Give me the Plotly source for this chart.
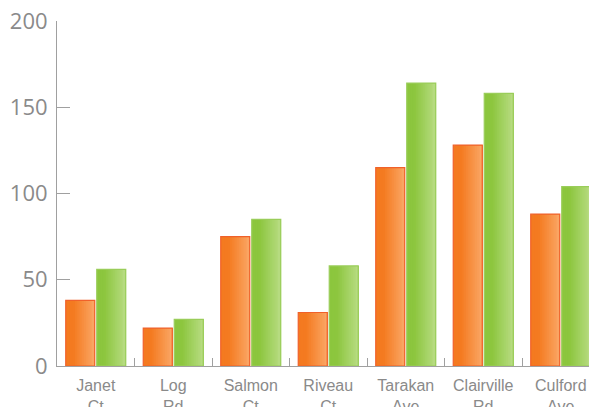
import plotly.graph_objects as go

categories = ["Janet<br>Ct", "Log<br>Rd", "Salmon<br>Ct", "Riveau<br>Ct", "Tarakan<br>Ave", "Clairville<br>Rd", "Culford<br>Ave"]
series_a = [38, 22, 75, 31, 115, 128, 88]
series_b = [56, 27, 85, 58, 164, 158, 104]
y_ticks = [0, 50, 100, 150, 200]

W, H = 589, 407
ML, MT, MB = 57, 21, 41
cat_px = 77.5
plot_w = W - ML
x_max = -0.5 + plot_w / cat_px

bar_w = 29 / cat_px
offsets = [-30 / cat_px, 1 / cat_px]

def hex2rgb(h):
    h = h.lstrip("#")
    return tuple(int(h[i:i + 2], 16) for i in (0, 2, 4))

def mix(c1, c2, t):
    a, b = hex2rgb(c1), hex2rgb(c2)
    return "rgb(%d,%d,%d)" % tuple(round(a[i] + (b[i] - a[i]) * t) for i in range(3))

styles = [
    dict(c1="#F47A20", c2="#FAA563", line="#F0612A"),
    dict(c1="#8CC63E", c2="#B6DB80", line="#9ACD5A"),
]

fig = go.Figure()
N = 16
for vals, off, st in zip([series_a, series_b], offsets, styles):
    sw = bar_w / N
    for i in range(N):
        t = max(0.0, (i / (N - 1) - 0.25) / 0.75)
        fig.add_trace(go.Bar(
            x=categories, y=vals,
            offset=off + i * sw, width=bar_w - i * sw,
            marker=dict(color=mix(st["c1"], st["c2"], t), line=dict(width=0)),
            showlegend=False, hoverinfo="skip",
        ))
    fig.add_trace(go.Bar(
        x=categories, y=vals, offset=off, width=bar_w,
        marker=dict(color="rgba(0,0,0,0)", line=dict(color=st["line"], width=1.2)),
        showlegend=False, hoverinfo="skip",
    ))

fig.update_layout(
    width=W, height=H,
    margin=dict(l=ML, r=0, t=MT, b=MB, pad=0, autoexpand=False),
    barmode="overlay",
    plot_bgcolor="white", paper_bgcolor="white",
    font=dict(family="Liberation Sans, Arial, sans-serif", color="#8a8a8a"),
    xaxis=dict(
        range=[-0.5, x_max], showgrid=False, zeroline=False, automargin=False,
        showline=True, linecolor="#a0a0a0", linewidth=1,
        ticks="inside", tickson="boundaries", ticklen=8, tickcolor="#a0a0a0", tickwidth=1,
        tickfont=dict(size=16, color="#8a8a8a"), ticklabelstandoff=5,
    ),
    yaxis=dict(
        range=[0, 200], tickvals=y_ticks, showgrid=False, zeroline=False, automargin=False,
        showline=True, linecolor="#a0a0a0", linewidth=1,
        ticks="inside", ticklen=13, tickcolor="#a0a0a0", tickwidth=1,
        tickfont=dict(size=22, color="#8a8a8a", family="Open Sans, sans-serif"), ticklabelstandoff=4,
    ),
)

fig.write_html("out.html")
